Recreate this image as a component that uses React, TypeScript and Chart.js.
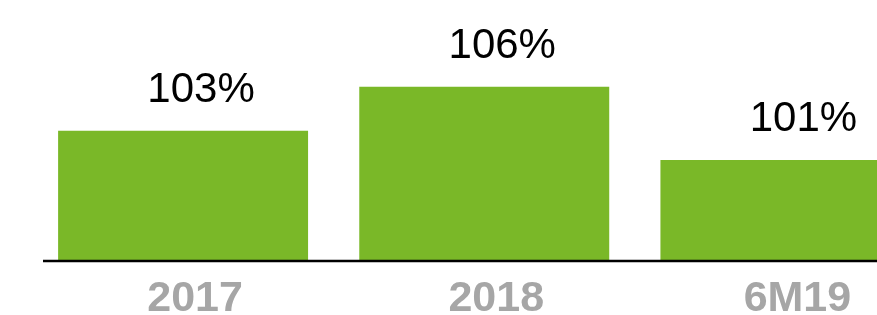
import React, { useEffect, useRef } from "react";
import { Chart, registerables } from "chart.js";

Chart.register(...registerables);

const categories = ["2017", "2018", "6M19"];
const values = [103, 106, 101];
const valueLabels = ["103%", "106%", "101%"];

const GREEN = "#7ab828";
const GRAY = "#a6a6a6";
const FONT = '"Liberation Sans", Arial, sans-serif';

const valueLabelPlugin = {
  id: "valueLabels",
  afterDatasetsDraw(chart: any) {
    const ctx = chart.ctx;
    const meta = chart.getDatasetMeta(0);
    ctx.save();
    ctx.font = `normal 42px ${FONT}`;
    ctx.fillStyle = "#000000";
    ctx.textAlign = "center";
    ctx.textBaseline = "alphabetic";
    meta.data.forEach((el: any, i: number) => {
      ctx.fillText(valueLabels[i], el.x + 18, el.y - 29);
    });
    ctx.restore();
  },
};

const baselinePlugin = {
  id: "baseline",
  afterDatasetsDraw(chart: any) {
    const { ctx, chartArea } = chart;
    ctx.save();
    ctx.strokeStyle = "#000000";
    ctx.lineWidth = 2.5;
    ctx.beginPath();
    ctx.moveTo(chartArea.left + 10.5, chartArea.bottom + 1);
    ctx.lineTo(chartArea.right, chartArea.bottom + 1);
    ctx.stroke();
    ctx.restore();
  },
};

export default function App() {
  const ref = useRef<HTMLCanvasElement | null>(null);

  useEffect(() => {
    if (!ref.current) return;
    const chart = new Chart(ref.current, {
      type: "bar",
      data: {
        labels: categories,
        datasets: [
          {
            data: values,
            backgroundColor: GREEN,
            borderWidth: 0,
            categoryPercentage: 1,
            barPercentage: 0.83,
          },
        ],
      },
      options: {
        responsive: false,
        animation: false,
        layout: { padding: { left: 32.5, right: 0, top: 0, bottom: 12 } },
        plugins: {
          legend: { display: false },
          tooltip: { enabled: false },
          title: { display: false },
        },
        scales: {
          x: {
            grid: { display: false, drawTicks: false },
            border: { display: false },
            ticks: {
              color: GRAY,
              font: { family: FONT, size: 43, weight: "bold", lineHeight: 1 },
              padding: 18,
              labelOffset: 12,
              maxRotation: 0,
            },
          },
          y: {
            display: false,
            min: 94.2,
            max: 111.9,
          },
        },
      },
      plugins: [valueLabelPlugin, baselinePlugin],
    });
    return () => chart.destroy();
  }, []);

  return (
    <div
      style={{
        position: "absolute",
        left: 0,
        top: 0,
        width: 877,
        height: 315,
        overflow: "hidden",
        background: "#ffffff",
      }}
    >
      <canvas ref={ref} width={936} height={351} style={{ display: "block" }} />
    </div>
  );
}
